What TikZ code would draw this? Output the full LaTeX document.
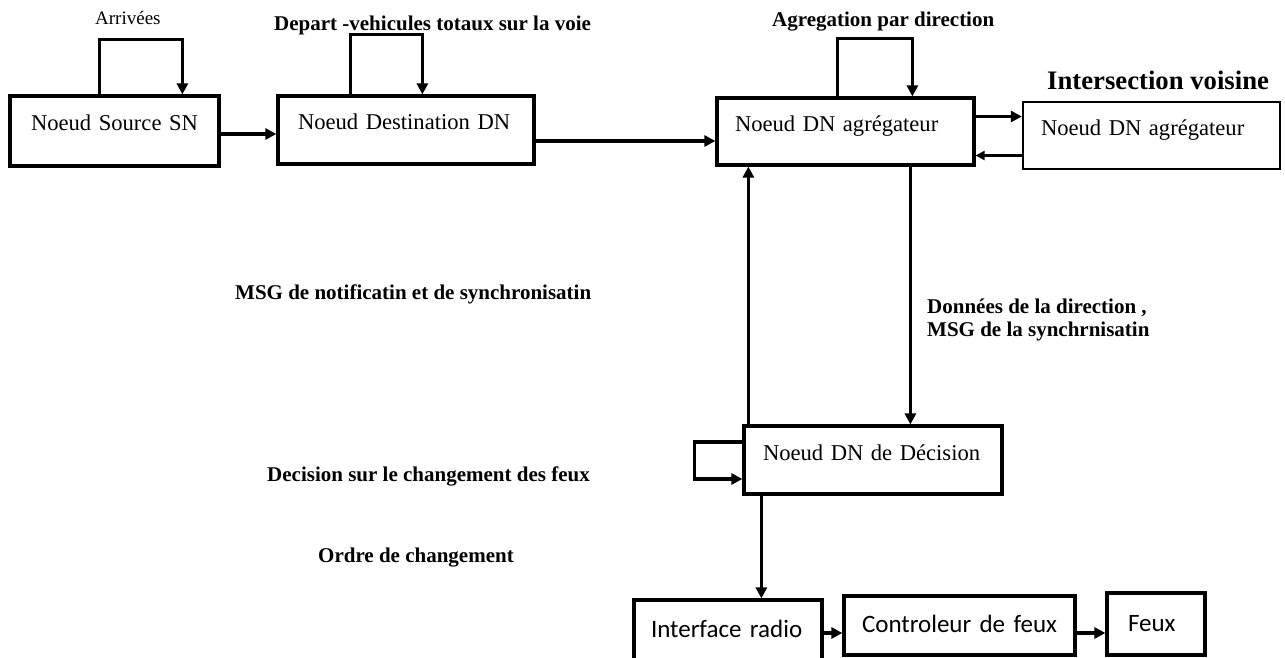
\documentclass[tikz,border=0pt]{standalone}
\usepackage{fontspec}
\setmainfont{Liberation Serif}
\newfontfamily\calibfont{Carlito}
\usetikzlibrary{arrows.meta,calc}

\begin{document}
\begin{tikzpicture}[x=1pt,y=-1pt,
  box/.style={draw, line width=3.2pt, inner ysep=0pt, align=left,
    font=\fontsize{22.6}{27}\selectfont, text height=15pt, text depth=15pt},
  sbox/.style={box, font=\calibfont\fontsize{25}{30}\selectfont,
    text height=20pt, text depth=6pt},
  lbl/.style={anchor=base west, inner sep=0pt,
    font=\bfseries\fontsize{21}{25}\selectfont},
  arr/.style={line width=3.2pt, -{Triangle[length=11pt,width=11pt]}},
  thinarr/.style={line width=2.2pt, -{Triangle[length=9pt,width=9pt]}},
]
\path[use as bounding box, clip] (0,0) rectangle (1285,658);
\fill[white] (0,0) rectangle (1285,658);

% upper row of nodes
\node[box, minimum width=209pt, minimum height=70pt, inner xsep=21pt, text width=167pt]
  (sn) at (114.5,131) {Noeud Source SN};
\node[box, minimum width=256pt, minimum height=68pt, inner xsep=20pt, text width=216pt]
  (dn) at (406,130) {Noeud Destination DN};
\node[box, minimum width=257pt, minimum height=67pt, inner xsep=18pt, text width=221pt]
  (agg) at (845.5,131.5) {Noeud DN agrégateur};
\node[box, line width=2.4pt, minimum width=257pt, minimum height=67pt, inner xsep=18pt, text width=221pt]
  (nb) at (1151.5,135.5) {Noeud DN agrégateur};

% decision node
\node[box, minimum width=258pt, minimum height=68pt, inner xsep=19pt, text width=220pt]
  (dec) at (873,460) {Noeud DN de Décision};

% lower row
\node[sbox, minimum width=188pt, minimum height=61pt, inner xsep=17pt, text width=154pt]
  (iface) at (728,630.5) {Interface radio};
\node[sbox, minimum width=231pt, minimum height=59pt, inner xsep=18pt, text width=195pt]
  (ctl) at (959.5,625.5) {Controleur de feux};
\node[sbox, minimum width=98pt, minimum height=62pt, inner xsep=21pt, text width=56pt]
  (feux) at (1156,624) {Feux};

% self loops above the nodes
\draw[arr] ($(sn.north west)+(91,0)$) -- ++(0,-55) -| ($(sn.north west)+(174,0)$);
\draw[arr] ($(dn.north west)+(74,0)$) -- ++(0,-60) -| ($(dn.north west)+(146,0)$);
\draw[arr] ($(agg.north west)+(122,0)$) -- ++(0,-58) -| ($(agg.north west)+(197,0)$);

% horizontal links
\draw[arr] ($(sn.east)+(0,3)$) coordinate (p1) -- (p1 -| dn.west);
\draw[arr] ($(dn.east)+(0,11)$) coordinate (p2) -- (p2 -| agg.west);
\draw[arr] ($(agg.east)+(0,-15)$) coordinate (p3) -- (p3 -| nb.west);
\draw[thinarr] ($(nb.west)+(0,20)$) coordinate (p4) -- (p4 -| agg.east);

% vertical links between aggregator and decision
\draw[arr, line width=3pt] ($(dec.north west)+(6,0)$) coordinate (p5) -- (p5 |- agg.south);
\draw[arr, line width=3pt] ($(agg.south west)+(195,0)$) coordinate (p6) -- (p6 |- dec.north);

% decision loop and command chain
\draw[arr] ($(dec.west)+(0,-18)$) -- ++(-48,0) |- ($(dec.west)+(0,19)$);
\draw[arr] ($(dec.south west)+(19,0)$) coordinate (p7) -- (p7 |- iface.north);
\draw[arr] ($(iface.east)+(0,2.5)$) coordinate (p8) -- (p8 -| ctl.west);
\draw[arr] ($(ctl.east)+(0,7.5)$) coordinate (p9) -- (p9 -| feux.west);

% labels
\node[lbl, font=\fontsize{19}{23}\selectfont] (tArr) at (95,25) {Arrivées};
\node[lbl] (tDep) at (274,31) {Depart -vehicules totaux sur la voie};
\node[lbl] (tAgg) at (772,27) {Agregation par direction};
\node[lbl, font=\bfseries\fontsize{26.7}{32}\selectfont] (tInt) at (1047,90) {Intersection voisine};
\node[lbl] (tMsg) at (235,299) {MSG de notificatin et de synchronisatin};
\node[lbl] (tDon) at (927,313) {Données de la direction ,};
\node[lbl] (tSyn) at (927,336) {MSG de la synchrnisatin};
\node[lbl] (tDec) at (267,481) {Decision sur le changement des feux};
\node[lbl] (tOrd) at (318,562) {Ordre de changement};
\end{tikzpicture}
\end{document}
